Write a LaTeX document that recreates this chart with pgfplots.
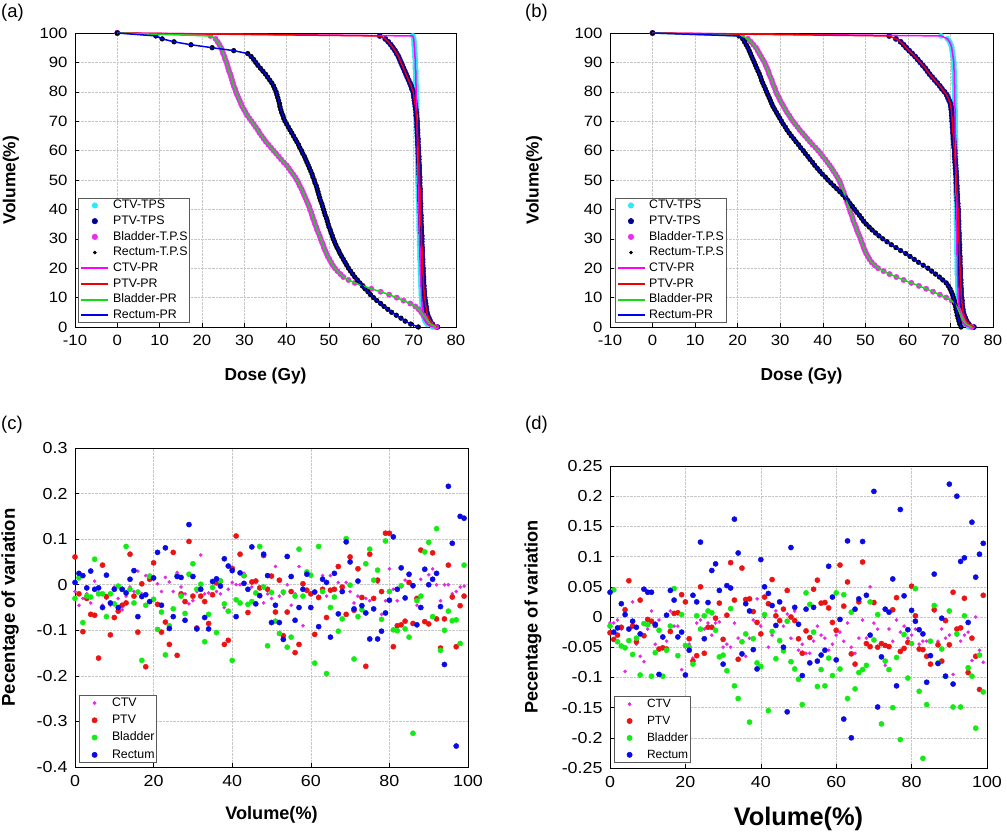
\documentclass[border=0pt]{standalone}
\usepackage{fontspec}
\setmainfont{Liberation Sans}
\newfontfamily\tickfont{Liberation Sans}[FakeStretch=1.12]
\usepackage{pgfplots}
\usepackage{pgfplotstable}
\pgfplotsset{compat=1.18}

\definecolor{cyanT}{RGB}{40,235,245}
\definecolor{navyT}{RGB}{0,0,150}
\definecolor{magT}{RGB}{240,40,240}
\definecolor{magL}{RGB}{255,0,255}
\definecolor{redL}{RGB}{240,0,0}
\definecolor{greenL}{RGB}{20,220,20}
\definecolor{blueL}{RGB}{0,0,240}
\definecolor{sRed}{RGB}{235,20,20}
\definecolor{sGreen}{RGB}{20,235,20}
\definecolor{sBlue}{RGB}{10,10,230}
\definecolor{sMag}{RGB}{230,40,230}

% ---------- DVH panel (a): volume (%) and dose (Gy) for each structure
\pgfplotstableread{
v ctv ptv bla rec
100 0 0 0 0
99 69.8 62.0 22.0 9.1
98 70.0 63.3 23.2 10.6
97 70.1 64.0 23.7 13.4
96 70.1 64.6 24.1 17.4
95 70.2 65.1 24.5 22.4
94 70.2 65.6 24.8 27.5
93 70.3 66.0 25.0 30.8
92 70.3 66.4 25.3 31.6
91 70.4 66.7 25.5 32.2
90 70.4 67.0 25.8 32.7
89 70.4 67.3 26.0 33.2
88 70.4 67.6 26.2 33.8
87 70.5 67.9 26.4 34.4
86 70.5 68.2 26.7 35.0
85 70.5 68.5 26.9 35.5
84 70.5 68.8 27.1 36.0
83 70.5 69.1 27.3 36.5
82 70.6 69.4 27.5 36.9
81 70.6 69.6 27.8 37.2
80 70.6 69.9 28.0 37.5
79 70.6 70.0 28.3 37.7
78 70.6 70.1 28.6 37.9
77 70.7 70.2 28.9 38.1
76 70.7 70.3 29.2 38.3
75 70.7 70.4 29.5 38.4
74 70.7 70.5 29.9 38.6
73 70.7 70.6 30.3 38.8
72 70.8 70.6 30.7 39.1
71 70.8 70.7 31.2 39.3
70 70.8 70.8 31.7 39.6
69 70.8 70.8 32.2 40.0
68 70.8 70.8 32.7 40.4
67 70.8 70.9 33.2 40.8
66 70.8 70.9 33.6 41.2
65 70.9 70.9 34.1 41.6
64 70.9 71.0 34.6 42.0
63 70.9 71.0 35.1 42.4
62 70.9 71.0 35.7 42.8
61 70.9 71.1 36.3 43.1
60 70.9 71.1 36.9 43.5
59 70.9 71.1 37.5 43.8
58 70.9 71.2 38.1 44.2
57 71.0 71.2 38.7 44.5
56 71.0 71.2 39.3 44.8
55 71.0 71.3 40.0 45.1
54 71.0 71.3 40.5 45.4
53 71.0 71.3 41.0 45.7
52 71.0 71.3 41.5 46.0
51 71.0 71.4 42.0 46.2
50 71.0 71.4 42.4 46.5
49 71.0 71.4 42.8 46.7
48 71.1 71.4 43.1 47.0
47 71.1 71.5 43.5 47.2
46 71.1 71.5 43.8 47.4
45 71.1 71.5 44.1 47.6
44 71.1 71.5 44.4 47.8
43 71.2 71.5 44.7 48.0
42 71.2 71.6 45.0 48.3
41 71.2 71.6 45.3 48.5
40 71.2 71.6 45.5 48.7
39 71.2 71.6 45.8 48.9
38 71.3 71.7 46.0 49.1
37 71.3 71.7 46.2 49.4
36 71.3 71.7 46.5 49.6
35 71.3 71.7 46.7 49.8
34 71.3 71.8 47.0 50.0
33 71.3 71.8 47.2 50.3
32 71.4 71.8 47.5 50.5
31 71.4 71.9 47.8 50.8
30 71.4 71.9 48.0 51.0
29 71.4 71.9 48.3 51.3
28 71.4 71.9 48.6 51.6
27 71.5 72.0 48.8 51.9
26 71.5 72.0 49.1 52.3
25 71.5 72.0 49.4 52.6
24 71.5 72.0 49.7 53.0
23 71.5 72.1 50.1 53.4
22 71.6 72.1 50.5 53.8
21 71.6 72.1 50.9 54.2
20 71.6 72.2 51.4 54.6
19 71.6 72.2 52.0 55.1
18 71.6 72.2 52.7 55.6
17 71.7 72.3 53.4 56.1
16 71.7 72.3 54.6 56.7
15 71.7 72.3 56.1 57.3
14 71.7 72.4 58.0 57.9
13 71.8 72.4 60.0 58.5
12 71.8 72.5 62.2 59.2
11 71.8 72.5 64.2 59.8
10 71.9 72.6 66.0 60.5
9 71.9 72.7 67.6 61.3
8 72.0 72.8 69.2 62.2
7 72.0 72.9 70.4 63.0
6 72.1 73.0 71.2 63.9
5 72.2 73.1 71.8 64.8
4 72.3 73.3 72.3 65.9
3 72.5 73.6 72.8 67.0
2 72.7 73.9 73.4 68.0
1 73.2 74.4 74.0 69.3
0 74.5 75.6 75.3 71.1
}\dvhA

% ---------- DVH panel (b)
\pgfplotstableread{
v ctv ptv bla rec
100 0 0 0 0
99 67.8 55.6 21.0 20.3
98 69.3 57.2 22.4 21.2
97 69.8 58.3 23.1 21.6
96 70.1 59.0 23.7 22.0
95 70.3 59.6 24.3 22.4
94 70.4 60.3 24.7 22.7
93 70.5 61.0 25.1 23.0
92 70.6 61.7 25.5 23.3
91 70.7 62.3 25.9 23.6
90 70.8 62.9 26.3 23.9
89 70.8 63.5 26.6 24.2
88 70.8 64.1 26.9 24.5
87 70.9 64.6 27.2 24.8
86 70.9 65.1 27.4 25.1
85 70.9 65.7 27.7 25.4
84 70.9 66.3 28.0 25.6
83 70.9 66.9 28.2 25.9
82 71.0 67.5 28.5 26.2
81 71.0 68.0 28.8 26.5
80 71.0 68.6 29.0 26.8
79 71.0 69.1 29.3 27.1
78 71.0 69.4 29.7 27.4
77 71.0 69.7 30.0 27.7
76 71.0 70.0 30.4 28.0
75 71.0 70.1 30.8 28.3
74 71.1 70.2 31.2 28.7
73 71.1 70.3 31.6 29.1
72 71.1 70.3 32.1 29.5
71 71.1 70.4 32.5 29.9
70 71.1 70.4 33.0 30.3
69 71.1 70.5 33.5 30.7
68 71.1 70.5 34.1 31.2
67 71.1 70.6 34.6 31.6
66 71.1 70.6 35.2 32.1
65 71.1 70.7 35.8 32.6
64 71.2 70.7 36.4 33.2
63 71.2 70.8 37.0 33.7
62 71.2 70.8 37.6 34.3
61 71.2 70.9 38.3 34.8
60 71.2 71.0 38.9 35.4
59 71.2 71.0 39.5 35.9
58 71.2 71.0 40.0 36.5
57 71.2 71.1 40.6 37.0
56 71.2 71.1 41.1 37.6
55 71.2 71.2 41.6 38.1
54 71.3 71.2 42.1 38.7
53 71.3 71.3 42.5 39.3
52 71.3 71.3 43.0 39.9
51 71.3 71.4 43.4 40.6
50 71.3 71.4 43.8 41.2
49 71.3 71.4 44.1 41.9
48 71.3 71.5 44.4 42.6
47 71.3 71.5 44.6 43.3
46 71.3 71.5 44.9 44.0
45 71.3 71.6 45.1 44.7
44 71.4 71.6 45.4 45.3
43 71.4 71.6 45.6 45.9
42 71.4 71.7 45.8 46.4
41 71.4 71.7 46.1 47.0
40 71.4 71.8 46.3 47.5
39 71.4 71.8 46.5 48.0
38 71.4 71.8 46.8 48.6
37 71.4 71.8 47.0 49.1
36 71.4 71.9 47.2 49.6
35 71.4 71.9 47.5 50.2
34 71.5 71.9 47.8 50.9
33 71.5 71.9 48.0 51.6
32 71.5 72.0 48.3 52.4
31 71.5 72.0 48.6 53.2
30 71.5 72.0 48.9 54.1
29 71.5 72.0 49.1 55.1
28 71.5 72.1 49.4 56.1
27 71.5 72.1 49.6 57.2
26 71.5 72.1 49.9 58.3
25 71.5 72.1 50.2 59.5
24 71.6 72.2 50.6 60.5
23 71.6 72.2 51.0 61.5
22 71.6 72.2 51.5 62.5
21 71.6 72.2 52.2 63.6
20 71.6 72.3 53.0 64.7
19 71.6 72.3 54.3 65.6
18 71.6 72.3 55.7 66.5
17 71.7 72.3 57.3 67.4
16 71.7 72.4 59.0 68.2
15 71.7 72.4 60.8 69.0
14 71.7 72.4 62.6 69.5
13 71.8 72.5 64.3 69.9
12 71.8 72.5 65.9 70.2
11 71.8 72.5 67.5 70.5
10 71.8 72.6 69.0 70.7
9 71.9 72.7 70.3 70.9
8 71.9 72.7 71.0 71.0
7 72.0 72.8 71.5 71.2
6 72.1 72.9 71.8 71.3
5 72.2 73.0 72.1 71.5
4 72.4 73.2 72.4 71.6
3 72.6 73.5 72.7 71.8
2 72.9 73.8 73.1 72.0
1 73.4 74.3 73.7 72.2
0 74.3 75.5 75.0 72.5
}\dvhB

% ---------- panel (c): percentage of variation vs volume
\pgfplotstableread{
x ctv ptv bla rec
0 -0.015 0.061 -0.03 0.005
1 -0.045 -0.02 0.015 0.025
2 -0.03 -0.103 -0.083 0.02
3 -0.02 -0.03 -0.025 -0.007
4 -0.04 -0.065 -0.027 0.03
5 0.008 -0.067 0.056 -0.01
6 -0.02 -0.161 -0.02 -0.007
7 -0.045 0.043 -0.02 -0.05
8 -0.03 -0.026 -0.07 0.021
9 -0.045 -0.11 -0.02 -0.04
10 -0.005 -0.072 -0.042 -0.01
11 -0.03 -0.058 -0.003 -0.05
12 -0.055 -0.045 -0.01 -0.01
13 -0.025 -0.04 0.084 -0.018
14 -0.005 0.067 -0.01 0.012
15 -0.015 -0.025 -0.04 0.031
16 0.03 -0.104 -0.016 -0.07
17 -0.02 0.002 -0.166 -0.026
18 0.02 -0.18 -0.045 -0.022
19 0.018 0.012 0.019 -0.037
20 0.012 0.048 -0.032 0.015
21 0.002 -0.043 -0.098 0.071
22 -0.015 -0.104 -0.06 -0.045
23 0.016 -0.082 -0.154 0.081
24 0.006 -0.131 -0.09 -0.096
25 -0.015 0.071 -0.053 -0.07
26 0.027 -0.155 0.02 0.018
27 -0.005 -0.02 -0.025 0.016
28 -0.02 -0.037 -0.063 -0.078
29 -0.042 0.095 0.023 0.132
30 -0.035 -0.025 0.046 0.018
31 -0.015 -0.095 -0.01 -0.097
32 0.065 -0.025 0.001 -0.01
33 -0.02 -0.037 -0.125 -0.072
34 -0.018 -0.085 -0.065 -0.097
35 0.008 -0.022 -0.006 0.007
36 -0.015 0.004 -0.105 0.013
37 -0.02 0.008 0.008 -0.003
38 -0.05 -0.131 -0.042 0.057
39 -0.01 -0.122 -0.058 0.041
40 0.005 0.036 -0.166 0.031
41 0 0.107 -0.033 -0.07
42 0 0.067 -0.04 0.026
43 0.025 0.02 0.02 0.003
44 -0.01 -0.061 -0.043 -0.01
45 -0.005 0.006 -0.037 0.083
46 0.01 0.008 -0.018 -0.042
47 -0.025 -0.007 0.084 -0.024
48 -0.04 0.064 -0.005 0.067
49 -0.02 -0.01 -0.134 0.02
50 -0.03 0.019 -0.017 -0.083
51 0.04 -0.06 -0.08 -0.045
52 -0.025 0.01 -0.107 -0.083
53 -0.02 -0.112 -0.016 -0.12
54 0 -0.06 -0.137 0.062
55 -0.045 -0.015 -0.115 0.018
56 -0.02 -0.149 -0.025 -0.078
57 0.04 -0.131 0.078 -0.05
58 -0.09 0.002 -0.025 -0.01
59 -0.015 -0.012 0.028 0.023
60 -0.02 -0.02 0.021 -0.05
61 -0.015 -0.109 -0.172 -0.016
62 -0.025 -0.028 0.084 -0.092
63 0.02 -0.01 -0.015 0.012
64 -0.025 -0.072 -0.195 0.005
65 0.02 -0.012 -0.05 -0.115
66 -0.01 -0.01 -0.027 0.025
67 0.005 0.04 -0.102 -0.064
68 -0.015 -0.005 -0.075 -0.015
69 0.005 -0.065 0.101 0.094
70 -0.015 0.061 -0.001 0.05
71 -0.04 -0.056 -0.163 -0.053
72 -0.025 0.035 -0.07 0.008
73 -0.045 -0.028 -0.055 -0.046
74 -0.03 -0.179 0.046 -0.062
75 -0.035 0.067 0.078 -0.119
76 -0.03 -0.03 0.01 -0.053
77 0.005 0.01 0.032 -0.119
78 -0.065 -0.015 -0.076 -0.102
79 -0.035 0.113 0.096 -0.062
80 0.035 0.113 -0.015 -0.034
81 -0.01 -0.136 -0.099 0.105
82 -0.035 -0.09 -0.101 -0.01
83 -0.005 -0.088 -0.002 0.037
84 0.01 -0.08 -0.097 -0.029
85 0.02 0.005 -0.115 0.023
86 -0.005 -0.085 -0.326 -0.002
87 -0.045 -0.03 -0.035 -0.088
88 0.012 0.076 -0.025 -0.05
89 0.035 -0.081 0.072 0.034
90 0.022 -0.086 0.093 0.0
91 0.035 0.07 -0.07 0.012
92 0 -0.075 0.123 0.025
93 -0.035 -0.139 -0.144 -0.048
94 0 -0.075 -0.1 -0.175
95 0 0.043 -0.058 0.216
96 -0.02 -0.027 -0.079 0.091
97 -0.015 -0.136 -0.077 -0.354
98 -0.005 -0.046 -0.129 0.15
99 -0.003 -0.025 0.043 0.146
}\scC

% ---------- panel (d)
\pgfplotstableread{
x ctv ptv bla rec
0 -0.01 -0.026 -0.015 0.041
1 -0.01 -0.037 0.045 -0.025
2 -0.005 -0.03 -0.041 -0.018
3 -0.02 -0.017 -0.048 0.022
4 -0.09 0.012 -0.051 0.004
5 -0.02 0.06 -0.039 -0.02
6 0.025 -0.015 -0.062 -0.007
7 -0.045 -0.041 -0.035 -0.017
8 -0.065 0.028 -0.096 -0.028
9 -0.074 -0.031 -0.011 0.046
10 -0.02 -0.004 -0.013 0.041
11 0.01 -0.007 -0.098 0.041
12 -0.045 -0.014 -0.059 -0.012
13 -0.005 -0.053 -0.022 -0.095
14 -0.035 -0.051 -0.098 -0.033
15 -0.04 -0.053 -0.055 0.003
16 0.01 -0.024 -0.015 0.044
17 -0.015 0.006 0.047 0.028
18 -0.015 0.007 -0.064 -0.033
19 -0.087 0.037 0.004 -0.025
20 -0.05 0.025 -0.047 -0.096
21 -0.045 -0.036 -0.05 -0.055
22 -0.068 -0.073 -0.078 0.036
23 -0.01 -0.064 0.002 0.025
24 -0.005 0.05 -0.02 0.124
25 -0.02 -0.06 0.002 -0.036
26 -0.01 -0.017 0.01 0.024
27 -0.03 -0.017 0.007 0.077
28 -0.01 -0.002 -0.022 0.088
29 -0.008 0.023 -0.066 0.044
30 -0.05 -0.037 -0.063 -0.078
31 -0.045 0.003 -0.089 0.052
32 -0.05 0.09 0.014 0.048
33 -0.01 0.028 -0.114 0.162
34 -0.035 -0.07 -0.135 0.106
35 -0.063 0.081 -0.041 -0.061
36 -0.065 0.029 -0.028 0.022
37 -0.035 0.03 -0.174 0.01
38 -0.005 0.009 -0.036 -0.054
39 0.03 -0.009 -0.076 -0.086
40 -0.015 -0.028 -0.082 0.095
41 0 0.033 0.004 0.05
42 -0.05 0.022 -0.155 0.039
43 -0.03 0.062 -0.024 0.019
44 0.01 0.002 -0.069 -0.014
45 -0.04 -0.006 -0.039 0.025
46 -0.015 0.013 -0.056 -0.05
47 0.005 0.044 -0.007 -0.157
48 -0.035 0 -0.074 0.115
49 0.01 -0.006 -0.086 0.016
50 -0.055 -0.036 -0.103 -0.012
51 -0.045 -0.06 -0.145 -0.097
52 -0.06 -0.023 0.04 0.013
53 -0.06 -0.034 0.021 -0.076
54 -0.04 0.046 -0.025 0.016
55 -0.015 0.061 -0.115 -0.073
56 -0.03 0.023 -0.087 -0.063
57 -0.035 0.024 -0.114 -0.055
58 -0.055 0.015 -0.068 0.084
59 -0.045 -0.009 -0.097 0.033
60 -0.03 -0.022 0.04 -0.071
61 -0.025 0.086 -0.086 -0.004
62 -0.04 0.018 0.037 -0.169
63 -0.01 0.058 -0.135 0.126
64 -0.05 -0.061 0.008 -0.2
65 -0.06 -0.078 -0.119 0.013
66 -0.035 0.025 -0.092 0.03
67 -0.005 0.091 -0.087 0.125
68 -0.035 -0.044 -0.08 0.036
69 0.05 -0.049 0.025 -0.03
70 -0.01 0.024 -0.038 0.208
71 -0.02 -0.05 0.004 -0.149
72 -0.045 -0.044 -0.177 -0.066
73 -0.08 -0.047 -0.073 0.013
74 -0.02 -0.049 -0.087 0.008
75 -0.04 0.012 -0.15 0.063
76 -0.005 0.032 -0.067 -0.114
77 -0.025 -0.057 -0.203 0.178
78 -0.015 -0.052 -0.029 0.035
79 -0.035 -0.042 -0.101 -0.021
80 -0.03 0.051 -0.044 0.011
81 -0.02 0.002 0.047 -0.007
82 -0.045 -0.053 -0.123 -0.021
83 -0.04 -0.054 -0.234 -0.028
84 -0.04 -0.065 -0.145 -0.108
85 -0.04 -0.078 -0.04 -0.064
86 0.01 0.012 0.019 0.071
87 -0.04 -0.046 -0.076 -0.077
88 -0.02 -0.073 -0.053 -0.002
89 -0.035 -0.006 -0.098 -0.098
90 -0.03 -0.046 0.01 0.22
91 -0.095 0.041 -0.149 -0.111
92 -0.03 -0.02 -0.028 0.2
93 -0.04 -0.018 -0.149 0.092
94 -0.03 0.031 0.002 0.098
95 -0.025 -0.092 -0.084 -0.009
96 -0.072 -0.035 -0.098 0.157
97 0 -0.065 -0.184 0.066
98 -0.055 -0.12 -0.063 0.104
99 -0.075 0.036 -0.124 0.122
}\scD

\pgfplotsset{
  base/.style={
    scale only axis, clip=false, clip marker paths=true,
    axis line style={black, line width=0.6bp},
    grid=major, grid style={densely dotted, black!22, line width=0.5bp},
    tick align=inside, tick pos=left, major tick length=4bp,
    tick style={black, line width=0.5bp},
    xticklabel style={yshift=-5bp},
    yticklabel style={xshift=-4bp},
    legend cell align=left,
    legend image code/.code={\path (0bp,-1bp) (27bp,1bp);
      \draw[mark repeat=2,mark phase=2,##1]
      plot coordinates {(0bp,0bp) (13.5bp,0bp) (27bp,0bp)};},
  },
  dvh/.style={base,
    xmin=-10, xmax=80, ymin=0, ymax=100,
    xtick={-10,0,10,20,30,40,50,60,70,80},
    xticklabels={-10,0,10,20,30,40,50,60,70,80},
    ytick={0,10,20,30,40,50,60,70,80,90,100},
    yticklabels={0,10,20,30,40,50,60,70,80,90,100},
    tick label style={font=\tickfont\fontsize{15}{15}\selectfont},
    label style={font=\bfseries\fontsize{17.4}{18}\selectfont},
    xlabel={Dose (Gy)}, ylabel={Volume(\%)},
    legend style={anchor=south west, draw=black!65, line width=0.6bp,
      font=\fontsize{12.4}{13}\selectfont, inner xsep=1.5bp, inner ysep=1bp,
      row sep=3bp, nodes={inner sep=0.6bp, text height=9bp, text depth=2.5bp},
      /tikz/every odd column/.append style={column sep=3bp}},
    legend entries={CTV-TPS,PTV-TPS,Bladder-T.P.S,Rectum-T.P.S,CTV-PR,PTV-PR,Bladder-PR,Rectum-PR},
  },
  tps/.style={only marks, mark=*, mark size=2.7bp, color=#1, mark options={draw=#1, fill=#1}},
  pr/.style={no marks, line width=1.5bp, color=#1, legend image post style={line width=2.2bp}},
  sc/.style={base,
    xmin=0, xmax=100,
    xtick={0,20,40,60,80,100}, xticklabels={0,20,40,60,80,100},
    tick label style={font=\tickfont\fontsize{16}{16}\selectfont},
    ylabel={Pecentage of variation}, xlabel={Volume(\%)},
    legend style={anchor=south west, draw=black!65, line width=0.6bp,
      font=\fontsize{12.4}{13}\selectfont, inner xsep=1.5bp, inner ysep=1.5bp,
      row sep=4.6bp, nodes={inner sep=0.6bp, text height=9bp, text depth=2.5bp},
      /tikz/every odd column/.append style={column sep=3bp}},
    legend entries={CTV,PTV,Bladder,Rectum},
  },
  scm/.style={only marks, mark=*, mark size=#1},
}

\begin{document}
\begin{tikzpicture}
\useasboundingbox (0bp,0bp) rectangle (1007bp,-836bp);

% ===================== (a)
\begin{axis}[dvh, at={(75bp,-327bp)}, anchor=south west, width=381bp, height=294bp,
  xlabel style={at={(axis description cs:0.5,-0.167)}, anchor=center},
  ylabel style={at={(axis description cs:-0.168,0.5)}, anchor=center},
  legend style={at={(0.009,0.0136)}}]
\addplot[tps=cyanT] table[x=ctv, y=v] {\dvhA};
\addplot[tps=navyT] table[x=ptv, y=v] {\dvhA};
\addplot[tps=magT] table[x=bla, y=v] {\dvhA};
\addplot[tps=black, mark size=2.4bp, legend image post style={mark size=1.5bp}] table[x=rec, y=v] {\dvhA};
\addplot[pr=magL] table[x=ctv, y=v] {\dvhA};
\addplot[pr=redL] table[x=ptv, y=v] {\dvhA};
\addplot[pr=greenL] table[x=bla, y=v] {\dvhA};
\addplot[pr=blueL] table[x=rec, y=v] {\dvhA};
\end{axis}

% ===================== (b)
\begin{axis}[dvh, at={(610bp,-327bp)}, anchor=south west, width=383bp, height=294bp,
  xlabel style={at={(axis description cs:0.5,-0.167)}, anchor=center},
  ylabel style={at={(axis description cs:-0.198,0.5)}, anchor=center},
  legend style={at={(0.012,0.0136)}}]
\addplot[tps=cyanT] table[x=ctv, y=v] {\dvhB};
\addplot[tps=navyT] table[x=ptv, y=v] {\dvhB};
\addplot[tps=magT] table[x=bla, y=v] {\dvhB};
\addplot[tps=black, mark size=2.4bp, legend image post style={mark size=1.5bp}] table[x=rec, y=v] {\dvhB};
\addplot[pr=magL] table[x=ctv, y=v] {\dvhB};
\addplot[pr=redL] table[x=ptv, y=v] {\dvhB};
\addplot[pr=greenL] table[x=bla, y=v] {\dvhB};
\addplot[pr=blueL] table[x=rec, y=v] {\dvhB};
\end{axis}

% ===================== (c)
\begin{axis}[sc, at={(75bp,-767bp)}, anchor=south west, width=393bp, height=319bp,
  ymin=-0.4, ymax=0.3,
  ytick={-0.4,-0.3,-0.2,-0.1,0,0.1,0.2,0.3},
  yticklabels={-0.4,-0.3,-0.2,-0.1,0,0.1,0.2,0.3},
  xlabel style={font=\bfseries\fontsize{18.2}{19}\selectfont, at={(axis description cs:0.5,-0.150)}, anchor=center},
  ylabel style={font=\bfseries\fontsize{18.6}{19}\selectfont, at={(axis description cs:-0.165,0.5)}, anchor=center},
  legend style={at={(0.0102,0.0125)}}]
\addplot[scm=1.6bp, color=sMag] table[x=x, y=ctv] {\scC};
\addplot[scm=2.6bp, color=sRed] table[x=x, y=ptv] {\scC};
\addplot[scm=2.6bp, color=sGreen] table[x=x, y=bla] {\scC};
\addplot[scm=2.6bp, color=sBlue] table[x=x, y=rec] {\scC};
\end{axis}

% ===================== (d)
\begin{axis}[sc, at={(610bp,-768bp)}, anchor=south west, width=377bp, height=302bp,
  ymin=-0.25, ymax=0.25,
  ytick={-0.25,-0.2,-0.15,-0.1,-0.05,0,0.05,0.1,0.15,0.2,0.25},
  yticklabels={-0.25,-0.2,-0.15,-0.1,-0.05,0,0.05,0.1,0.15,0.2,0.25},
  xlabel style={font=\bfseries\fontsize{25.5}{26}\selectfont, at={(axis description cs:0.5,-0.169)}, anchor=center},
  ylabel style={font=\bfseries\fontsize{18.2}{19}\selectfont, at={(axis description cs:-0.204,0.5)}, anchor=center},
  legend style={at={(0.0106,0.0166)}, font=\fontsize{12}{13}\selectfont, row sep=4.2bp}]
\addplot[scm=1.6bp, color=sMag] table[x=x, y=ctv] {\scD};
\addplot[scm=2.6bp, color=sRed] table[x=x, y=ptv] {\scD};
\addplot[scm=2.6bp, color=sGreen] table[x=x, y=bla] {\scD};
\addplot[scm=2.6bp, color=sBlue] table[x=x, y=rec] {\scD};
\end{axis}

\node[anchor=west, inner sep=0, font=\fontsize{18.5}{19}\selectfont] at (1bp,-13bp) {(a)};
\node[anchor=west, inner sep=0, font=\fontsize{18.5}{19}\selectfont] at (525bp,-12.5bp) {(b)};
\node[anchor=west, inner sep=0, font=\fontsize{18.5}{19}\selectfont] at (1bp,-425bp) {(c)};
\node[anchor=west, inner sep=0, font=\fontsize{18.5}{19}\selectfont] at (525bp,-425bp) {(d)};
\end{tikzpicture}
\end{document}
